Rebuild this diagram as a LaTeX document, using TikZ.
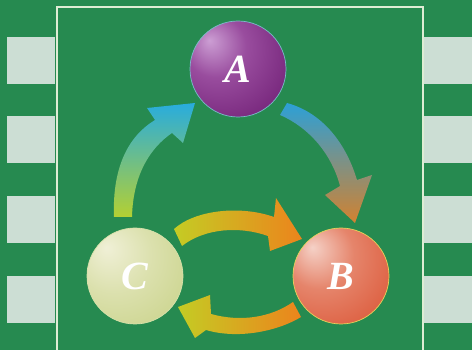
\documentclass[tikz,border=0pt]{standalone}
\usepackage{fontspec}
\setmainfont{Liberation Serif}
\definecolor{bg}{RGB}{38,138,80}
\definecolor{sq}{RGB}{204,222,212}
\definecolor{frameline}{RGB}{222,236,212}
\definecolor{ygreen}{RGB}{180,208,50}
\definecolor{cyanb}{RGB}{40,172,222}
\definecolor{blueb}{RGB}{44,160,215}
\definecolor{orangeb}{RGB}{210,130,48}
\definecolor{yellowa}{RGB}{196,204,36}
\definecolor{orangea}{RGB}{236,132,28}
\definecolor{rimA}{RGB}{120,190,200}
\definecolor{rimB}{RGB}{230,210,90}
\definecolor{rimC}{RGB}{215,225,170}
\pgfdeclareradialshading{ballA}{\pgfpoint{-15bp}{15bp}}{rgb(0bp)=(0.80,0.62,0.83); rgb(16bp)=(0.60,0.30,0.62); rgb(45bp)=(0.42,0.10,0.44); rgb(75bp)=(0.30,0.04,0.31)}
\pgfdeclareradialshading{ballB}{\pgfpoint{-15bp}{15bp}}{rgb(0bp)=(0.96,0.82,0.78); rgb(18bp)=(0.90,0.52,0.42); rgb(48bp)=(0.85,0.30,0.17); rgb(75bp)=(0.80,0.22,0.10)}
\pgfdeclareradialshading{ballC}{\pgfpoint{-15bp}{15bp}}{rgb(0bp)=(0.94,0.94,0.84); rgb(20bp)=(0.86,0.88,0.68); rgb(50bp)=(0.77,0.81,0.50); rgb(75bp)=(0.72,0.77,0.40)}
\tikzset{
  ball/.style={circle, minimum size=96pt, inner sep=0pt, text=white, line width=0.7pt,
    font=\fontsize{40}{40}\selectfont\bfseries\itshape},
  sqbox/.style={fill=sq, draw=none},
  bigarrow/.style={draw=none}
}
\begin{document}
\begin{tikzpicture}[x=1pt,y=-1pt]
\useasboundingbox (0,0) rectangle (472,350);
\fill[bg] (0,0) rectangle (472,350);
% side squares
\foreach \y in {37,116,196,276}{
  \fill[sq] (7,\y) rectangle (55,\y+47);
  \fill[sq] (424,\y) rectangle (472,\y+47);
}
% frame
\draw[frameline, line width=1.6pt] (57,352) -- (57,7) -- (423,7) -- (423,352);
% balls
\node[ball, shade, shading=ballA, draw=rimA] (A) at (238,69) {A};
\node[ball, shade, shading=ballB, draw=rimB] (B) at (341,276) {B};
\node[ball, shade, shading=ballC, draw=rimC] (C) at (135,276) {C};
% arrow C -> A
\shade[bigarrow, bottom color=ygreen, top color=cyanb]
  (114,217) .. controls (112,165) and (130,135) .. (155,120)
  -- (147,108) -- (195,103) -- (183,143) -- (172,133)
  .. controls (150,148) and (133,175) .. (132,217) -- cycle;
% arrow A -> B
\shade[bigarrow, top color=blueb, bottom color=orangeb]
  (287,103) .. controls (320,112) and (345,140) .. (357,180)
  -- (372,175) -- (355,223) -- (325,195) -- (340,186)
  .. controls (332,155) and (310,128) .. (280,115) -- cycle;
% arrow C -> B
\shade[bigarrow, left color=yellowa, right color=orangea]
  (174,229) .. controls (195,210) and (240,205) .. (274,217)
  -- (276,198) -- (302,239) -- (270,251) -- (268,236)
  .. controls (240,226) and (205,228) .. (182,246) -- cycle;
% arrow B -> C
\shade[bigarrow, left color=yellowa, right color=orangea]
  (293,302) .. controls (270,318) and (240,322) .. (211,314)
  -- (210,295) -- (178,307) -- (195,338) -- (206,330)
  .. controls (240,340) and (280,330) .. (301,317) -- cycle;
\end{tikzpicture}
\end{document}
